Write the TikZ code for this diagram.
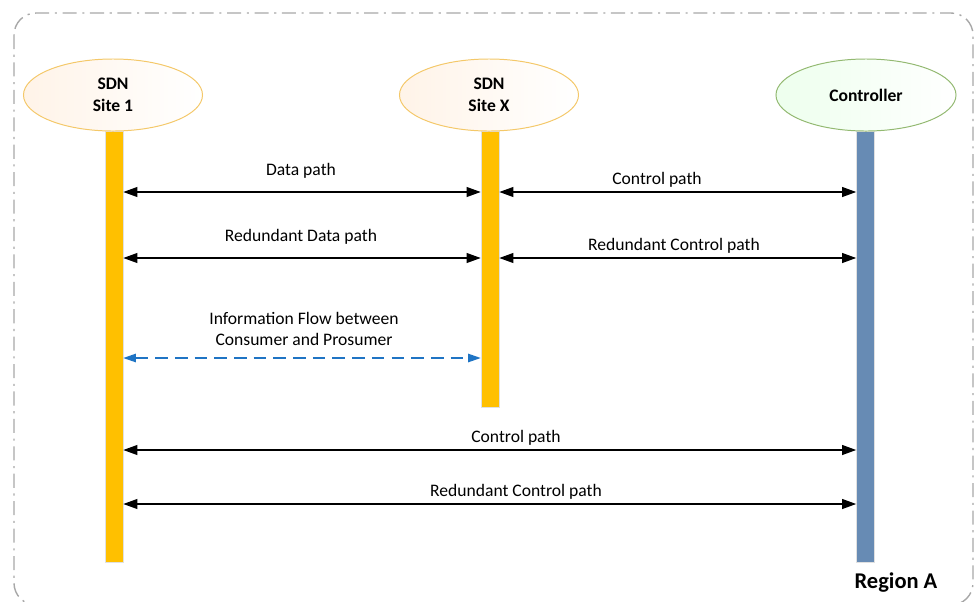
\documentclass[tikz,border=0pt]{standalone}
\usepackage{fontspec}
\setmainfont{Carlito}
\usetikzlibrary{arrows.meta,shapes.geometric}
\definecolor{sitegold}{HTML}{FFC000}
\definecolor{sitering}{HTML}{F4C869}
\definecolor{ctrlblue}{HTML}{678BB4}
\definecolor{ctrlring}{HTML}{93B971}
\definecolor{flowblue}{HTML}{1F74C4}
\definecolor{regiongray}{HTML}{A8A8A8}
\tikzset{
  site/.style={ellipse, draw=sitering, line width=0.7pt, shading=axis, left color=orange!9, right color=white,
    minimum width=4.475cm, minimum height=1.8cm, inner sep=0pt, align=center,
    font=\fontsize{12.5}{15.5}\selectfont\bfseries},
  ctrl/.style={ellipse, draw=ctrlring, line width=0.7pt, shading=axis, left color=green!7!white, right color=white,
    minimum width=4.5cm, minimum height=1.8cm, inner sep=0pt, align=center,
    font=\fontsize{12.5}{15.5}\selectfont\bfseries},
  lifeline/.style={rectangle, draw=black!12, line width=0.4pt, minimum width=0.45cm, inner sep=0pt, anchor=north},
  flow/.style={line width=1pt, {Triangle[length=10pt,width=7pt]}-{Triangle[length=10pt,width=7pt]}},
  infoflow/.style={flowblue, line width=1pt, dash pattern=on 9pt off 5pt,
    {Triangle[length=9pt,width=6pt]}-{Triangle[length=9pt,width=6pt]}},
  lbl/.style={inner sep=0pt, align=center, font=\fontsize{12.5}{15}\selectfont}
}
\begin{document}
\begin{tikzpicture}[x=0.025cm, y=-0.025cm]
    \useasboundingbox (0,0) rectangle (976,601);
    % Region border
    \draw[regiongray, line width=1pt, rounded corners=0.55cm,
      dash pattern=on 10pt off 4pt on 1.5pt off 4pt] (14,13) rectangle (973,605);

    % Lifelines
    \node[lifeline, fill=sitegold, minimum height=10.775cm] (barone) at (114,131) {};
    \node[lifeline, fill=sitegold, minimum height=6.9cm] (barx) at (490,131) {};
    \node[lifeline, fill=ctrlblue, minimum height=10.775cm] (barctrl) at (865.5,131) {};

    \node[site] (siteone) at (113,95) {SDN\\Site 1};
    \node[site] (sitex) at (489,95) {SDN\\Site X};
    \node[ctrl] (controller) at (866,95) {Controller};

    % Rows
    \coordinate (rowA) at (0,192);
    \coordinate (rowB) at (0,258);
    \coordinate (rowC) at (0,358);
    \coordinate (rowD) at (0,450);
    \coordinate (rowE) at (0,504);

    \draw[flow] (barone.east |- rowA) -- (barx.west |- rowA);
    \draw[flow] (barx.east |- rowA) -- (barctrl.west |- rowA);
    \draw[flow] (barone.east |- rowB) -- (barx.west |- rowB);
    \draw[flow] (barx.east |- rowB) -- (barctrl.west |- rowB);
    \draw[infoflow] (barone.east |- rowC) -- (barx.west |- rowC);
    \draw[flow] (barone.east |- rowD) -- (barctrl.west |- rowD);
    \draw[flow] (barone.east |- rowE) -- (barctrl.west |- rowE);

    \node[lbl] (datalbl) at (301,171) {Data path};
    \node[lbl] (ctrllbl) at (657,180) {Control path};
    \node[lbl] (rdatalbl) at (301,237) {Redundant Data path};
    \node[lbl] (rctrllbl) at (674,246) {Redundant Control path};
    \node[lbl] (infolbl) at (304,329) {Information Flow between\\Consumer and Prosumer};
    \node[lbl] (ctrllongl) at (516,438) {Control path};
    \node[lbl] (rctrllongl) at (516,492) {Redundant Control path};
    \node[lbl, font=\fontsize{16}{19}\selectfont\bfseries] (region) at (896,583) {Region A};
\end{tikzpicture}
\end{document}
